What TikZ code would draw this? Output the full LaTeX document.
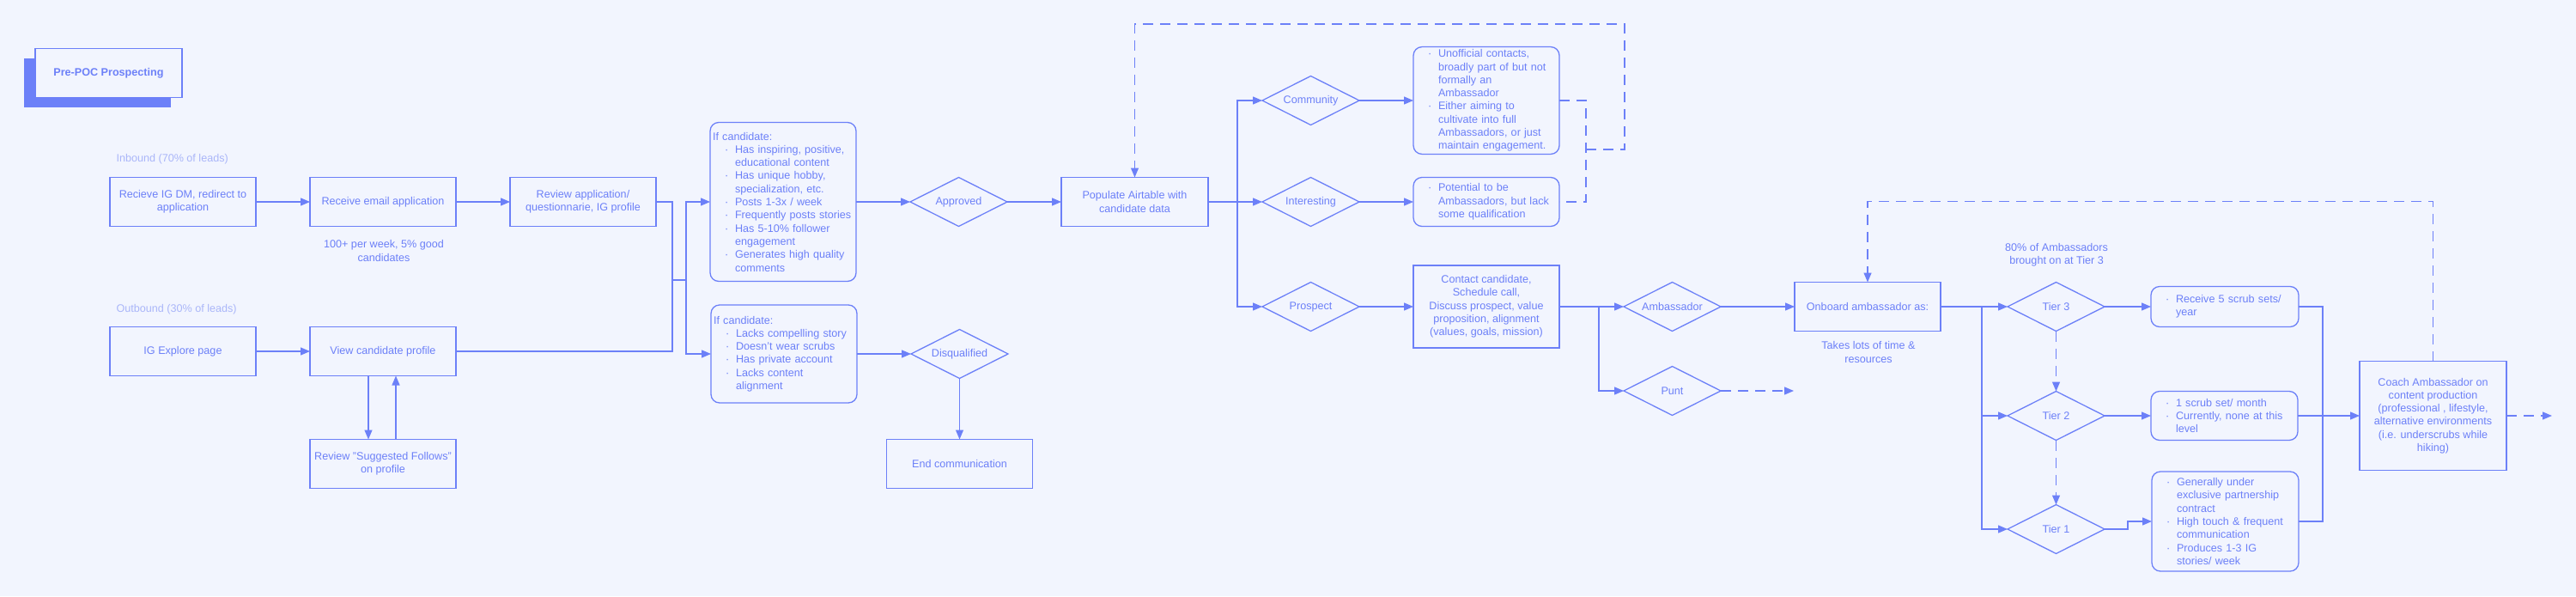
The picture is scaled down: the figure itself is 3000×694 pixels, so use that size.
\documentclass[tikz,border=0pt]{standalone}
\usepackage{fontspec}
\setmainfont{Liberation Sans}
\usetikzlibrary{arrows.meta, positioning, shapes.geometric, shadows}
\definecolor{ink}{RGB}{108,128,248}
\definecolor{pale}{RGB}{170,182,249}
\definecolor{bgc}{RGB}{242,245,254}
\newcommand{\bl}{\hspace*{14pt}\makebox[12pt][l]{\textperiodcentered}}
\newcommand{\ct}{\hspace*{26pt}}

\begin{document}
\begin{tikzpicture}[x=1pt, y=-1pt, node distance=63pt,
  every node/.style={text=ink, font=\fontsize{12.6}{15.3}\selectfont},
  box/.style={rectangle, draw=ink, line width=1.3pt, minimum width=170pt, minimum height=57pt, inner sep=3pt, outer sep=0pt, align=center},
  rbox/.style={box, rounded corners=10pt, text width=164pt, align=left},
  dia/.style={diamond, draw=ink, line width=1.3pt, aspect=2, minimum width=113pt, minimum height=57pt, inner sep=0pt, outer sep=0pt},
  lbl/.style={align=center},
  lead/.style={text=pale, anchor=west},
  wire/.style={draw=ink, line width=1.3pt},
  arr/.style={wire, -{Triangle[length=11pt,width=9pt]}},
  dline/.style={dash pattern=on 12pt off 8pt}]
  \fill[bgc] (0,0) rectangle (3000,694);
  \useasboundingbox (0,0) rectangle (3000,694);

  \node[box, fill=bgc, minimum width=171pt, font=\bfseries\fontsize{12.6}{15.3}\selectfont,
    drop shadow={shadow xshift=-13pt, shadow yshift=-11pt, opacity=1, fill=ink}] (ttl) at (126.5,85) {Pre-POC Prospecting};

  % inbound leads
  \node[lead] (inb) at (132,185) {Inbound (70\% of leads)};
  \node[box] (dm) at (213,235) {Recieve IG DM, redirect to\\application};
  \node[box, right=of dm] (email) {Receive email application};
  \node[box, right=of email] (rev) {Review application/\\questionnarie, IG profile};
  \node[lbl] (vol) at (447,292) {100+ per week, 5\% good\\candidates};

  % outbound leads
  \node[lead] (outb) at (132,360) {Outbound (30\% of leads)};
  \node[box] (expl) at (213,409) {IG Explore page};
  \node[box, right=of expl] (view) {View candidate profile};
  \node[box, below=74pt of view] (sugg) {Review "Suggested Follows"\\on profile};

  % screening
  \node[rbox, minimum height=185pt, right=of rev] (good) {If candidate:\\
    \bl Has inspiring, positive,\\\ct educational content\\
    \bl Has unique hobby,\\\ct specialization, etc.\\
    \bl Posts 1-3x / week\\
    \bl Frequently posts stories\\
    \bl Has 5-10\% follower\\\ct engagement\\
    \bl Generates high quality\\\ct comments};
  \node[rbox, minimum height=114pt] (bad) at (913,412) {If candidate:\\
    \bl Lacks compelling story\\
    \bl Doesn't wear scrubs\\
    \bl Has private account\\
    \bl Lacks content\\\ct alignment};
  \node[dia, right=of good] (appr) {Approved};
  \node[dia, right=of bad] (disq) {Disqualified};
  \node[box, below=71pt of disq] (endc) {End communication};
  \node[box, minimum width=171pt, right=of appr] (pop) {Populate Airtable with\\candidate data};

  % sorting
  \node[dia, right=of pop] (int) {Interesting};
  \node[dia, above=61pt of int] (comm) {Community};
  \node[dia, below=65pt of int] (prosp) {Prospect};
  \node[rbox, right=of comm] (commbox) {\bl Unofficial contacts,\\\ct broadly part of but not\\\ct formally an\\\ct Ambassador\\
    \bl Either aiming to\\\ct cultivate into full\\\ct Ambassadors, or just\\\ct maintain engagement.};
  \node[rbox, right=of int] (intbox) {\bl Potential to be\\\ct Ambassadors, but lack\\\ct some qualification};
  \node[box, minimum height=96pt, right=of prosp] (contact) {Contact candidate,\\Schedule call,\\Discuss prospect, value\\proposition, alignment\\(values, goals, mission)};
  \node[dia, right=75pt of contact] (amb) {Ambassador};
  \node[dia, below=41pt of amb] (punt) {Punt};
  \node[box, right=86pt of amb] (onb) {Onboard ambassador as:};
  \node[lbl] (cost) at (2176,410) {Takes lots of time \&\\resources};

  % tiers
  \node[dia, right=78pt of onb] (t3) {Tier 3};
  \node[dia, below=70pt of t3] (t2) {Tier 2};
  \node[dia, below=75pt of t2] (t1) {Tier 1};
  \node[lbl] (share) at (2395,297) {80\% of Ambassadors\\brought on at Tier 3};
  \node[rbox, minimum width=172pt, text width=166pt, minimum height=47pt, right=54pt of t3] (t3box) {\bl Receive 5 scrub sets/\\\ct year};
  \node[rbox, minimum width=171pt, text width=165pt, right=54pt of t2] (t2box) {\bl 1 scrub set/ month\\\bl Currently, none at this\\\ct level};
  \node[rbox, minimum width=171pt, text width=165pt, minimum height=116pt] (t1box) at (2591.5,607) {\bl Generally under\\\ct exclusive partnership\\\ct contract\\
    \bl High touch \& frequent\\\ct communication\\\bl Produces 1-3 IG\\\ct stories/ week};
  \node[box, minimum width=171pt, minimum height=127pt] (coach) at (2833.5,484) {Coach Ambassador on\\content production\\(professional , lifestyle,\\alternative environments\\(i.e. underscrubs while\\hiking)};

  % inbound and outbound paths
  \draw[arr] (dm) -- (email);
  \draw[arr] (email) -- (rev);
  \draw[arr] (expl) -- (view);
  \draw[arr] ([xshift=-17pt]view.south) -- ([xshift=-17pt]sugg.north);
  \draw[arr] ([xshift=15pt]sugg.north) -- ([xshift=15pt]view.south);
  \coordinate (m1) at (783,326);
  \coordinate (m2) at (799,326);
  \draw[wire] (rev.east) -| (m1) |- (view.east);
  \draw[wire] (m1) -- (m2);
  \draw[arr] (m2) |- (good.west);
  \draw[arr] (m2) |- (bad.west);

  % screening paths
  \draw[arr] (good) -- (appr);
  \draw[arr] (appr) -- (pop);
  \draw[arr] (bad) -- (disq);
  \draw[arr] (disq) -- (endc);

  % sorting paths
  \coordinate (s1) at (1441,235);
  \draw[arr] (pop) -- (int);
  \draw[arr] (s1) |- (comm.west);
  \draw[arr] (s1) |- (prosp.west);
  \draw[arr] (comm) -- (commbox);
  \draw[arr] (int) -- (intbox);
  \draw[arr] (prosp) -- (contact);
  \coordinate (r1) at (1847,174);
  \draw[wire, dline] (commbox.east) -| (r1) |- (intbox.east);
  \draw[arr, dline] (r1) -- (1892,174) -- (1892,28) -| (pop.north);

  % call outcome
  \coordinate (c1) at (1862,357);
  \draw[arr] (contact) -- (amb);
  \draw[arr] (c1) |- (punt.west);
  \coordinate[right=85pt of punt] (pend);
  \draw[arr, dline] (punt) -- (pend);
  \draw[arr] (amb) -- (onb);

  % tier paths
  \coordinate (t0) at (2308,357);
  \draw[arr] (onb) -- (t3);
  \draw[arr] (t0) |- (t2.west);
  \draw[arr] (t0) |- (t1.west);
  \draw[arr, dline] (t3) -- (t2);
  \draw[arr, dline] (t2) -- (t1);
  \draw[arr] (t3) -- (t3box);
  \draw[arr] (t2) -- (t2box);
  \draw[arr] (t1.east) -- ++(27,0) |- (t1box.west);
  \coordinate (u2) at (2705,607);
  \draw[wire] (t3box.east) -| (u2) -- (t1box.east);
  \draw[arr] (t2box.east) -- (t2box.east -| coach.west);

  % coaching
  \draw[arr, dline] (coach.north) -- ++(0,-186) -| (onb.north);
  \coordinate[right=53pt of coach] (cend);
  \draw[arr, dline] (coach) -- (cend);
\end{tikzpicture}
\end{document}
